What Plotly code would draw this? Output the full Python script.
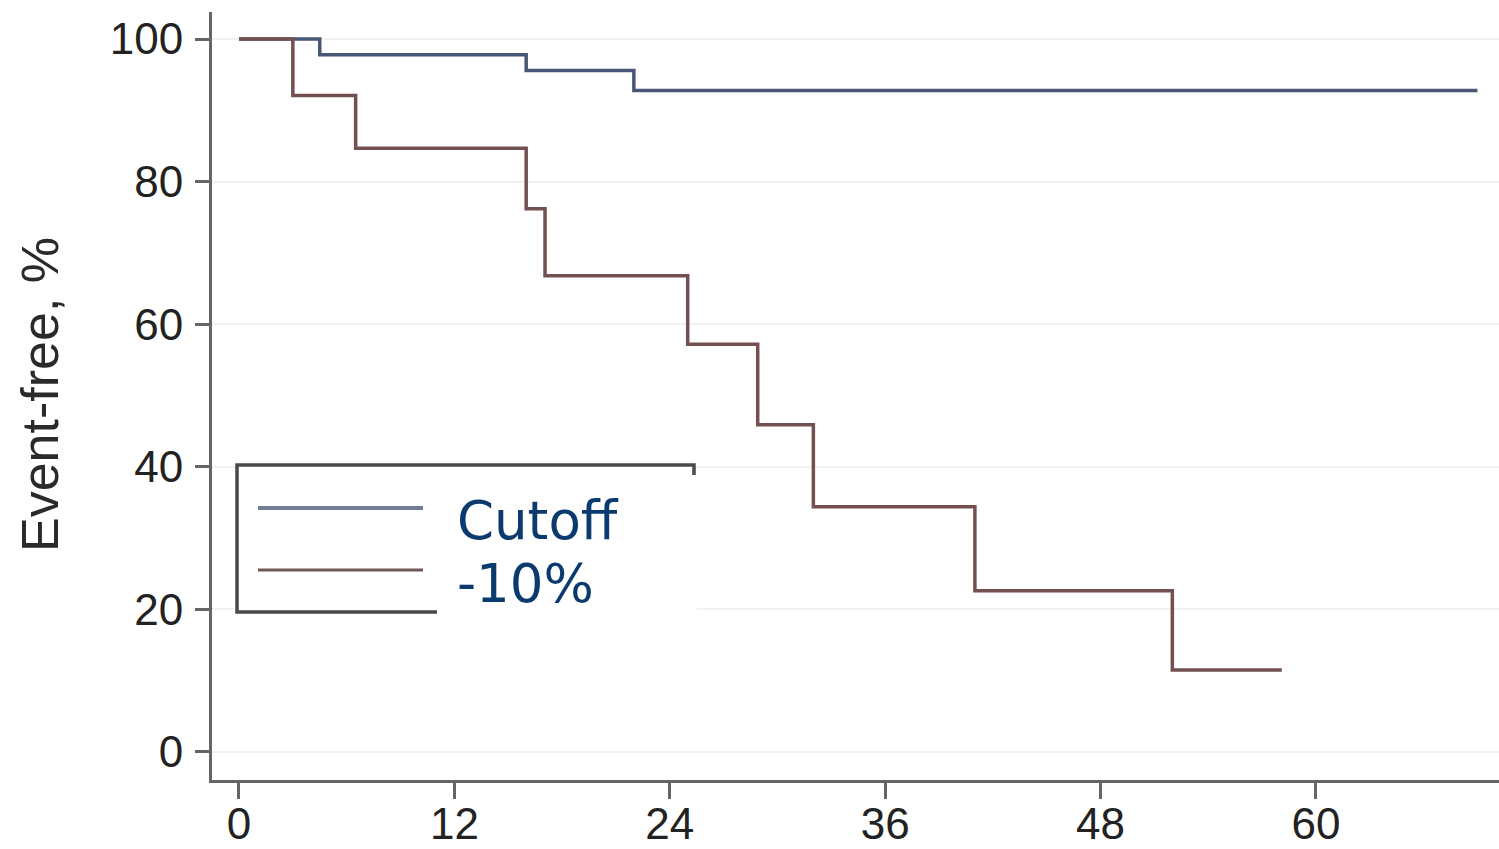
import plotly.graph_objects as go

# Kaplan-Meier style event-free curves (months vs. % event-free)
cutoff_months = [0, 4.5, 16.0, 22.0, 69.0]
cutoff_pct = [100, 97.8, 95.6, 92.8, 92.8]

minus10_months = [0, 3.0, 6.5, 16.0, 17.05, 25.0, 28.9, 32.0, 41.0, 52.0, 58.1]
minus10_pct = [100, 92.1, 84.7, 76.2, 66.8, 57.2, 45.9, 34.4, 22.6, 11.5, 11.5]

x_ticks = [0, 12, 24, 36, 48, 60]
y_ticks = [0, 20, 40, 60, 80, 100]
legend_labels = ["Cutoff", "-10%"]

BLUE = "#4a5675"
RED = "#745050"
NAVY = "#0a3a6e"
AXIS = "#666666"

W, H = 1499, 849
L, R, T, B = 212, 0, 12, 69
PW, PH = W - L - R, H - T - B


def px(xp):
    return (xp - L) / PW


def py(yp):
    return (H - B - yp) / PH


fig = go.Figure()
fig.add_trace(go.Scatter(x=cutoff_months, y=cutoff_pct, mode="lines",
                         line=dict(color=BLUE, width=3.5, shape="hv"),
                         name=legend_labels[0], showlegend=False))
fig.add_trace(go.Scatter(x=minus10_months, y=minus10_pct, mode="lines",
                         line=dict(color=RED, width=3.5, shape="hv"),
                         name=legend_labels[1], showlegend=False))

shapes = []
# legend frame
shapes.append(dict(type="rect", xref="paper", yref="paper",
                   x0=px(237), x1=px(694), y0=py(612), y1=py(465),
                   line=dict(color="#4a4a4a", width=3.5), fillcolor="white", layer="above"))
# legend sample lines
shapes.append(dict(type="line", xref="paper", yref="paper",
                   x0=px(258), x1=px(423), y0=py(508), y1=py(508),
                   line=dict(color="#737c95", width=4), layer="above"))
shapes.append(dict(type="line", xref="paper", yref="paper",
                   x0=px(258), x1=px(423), y0=py(570), y1=py(570),
                   line=dict(color="#6e5858", width=3), layer="above"))
# text panel laid over the right part of the frame
shapes.append(dict(type="rect", xref="paper", yref="paper",
                   x0=px(437), x1=px(697), y0=py(616), y1=py(475),
                   line=dict(width=0), fillcolor="white", layer="above"))

annotations = [
    dict(text=legend_labels[0], xref="paper", yref="paper", x=px(455), y=py(520),
         xanchor="left", yanchor="middle", showarrow=False,
         font=dict(family="DejaVu Sans", size=53, color=NAVY)),
    dict(text=legend_labels[1], xref="paper", yref="paper", x=px(455), y=py(583),
         xanchor="left", yanchor="middle", showarrow=False,
         font=dict(family="DejaVu Sans", size=53, color=NAVY)),
    dict(text="Event-free, %", xref="paper", yref="paper", x=px(40), y=py(395),
         xanchor="center", yanchor="middle", textangle=-90, showarrow=False,
         font=dict(family="Liberation Sans, Arial", size=52, color="#2a2a2a")),
]

fig.update_layout(
    width=W, height=H,
    margin=dict(l=L, r=R, t=T, b=B, autoexpand=False),
    paper_bgcolor="white", plot_bgcolor="white",
    shapes=shapes, annotations=annotations,
    font=dict(family="Liberation Sans, Arial", size=44, color="#222222"),
)
fig.update_xaxes(range=[-1.504, 70.2], tickvals=x_ticks, ticks="outside",
                 ticklen=16, tickwidth=3, tickcolor=AXIS, showline=True,
                 linecolor=AXIS, linewidth=3, showgrid=False, zeroline=False,
                 ticklabelstandoff=-13, tickfont=dict(size=44, color="#222222"))
fig.update_yaxes(range=[-3.93, 103.8], tickvals=y_ticks, ticks="outside",
                 ticklen=14, tickwidth=3, tickcolor=AXIS, showline=True,
                 linecolor=AXIS, linewidth=3, showgrid=True, gridcolor="#f2f2f2",
                 gridwidth=2, zeroline=False, ticklabelstandoff=3,
                 tickfont=dict(size=44, color="#222222"))

fig.write_html("out.html")
